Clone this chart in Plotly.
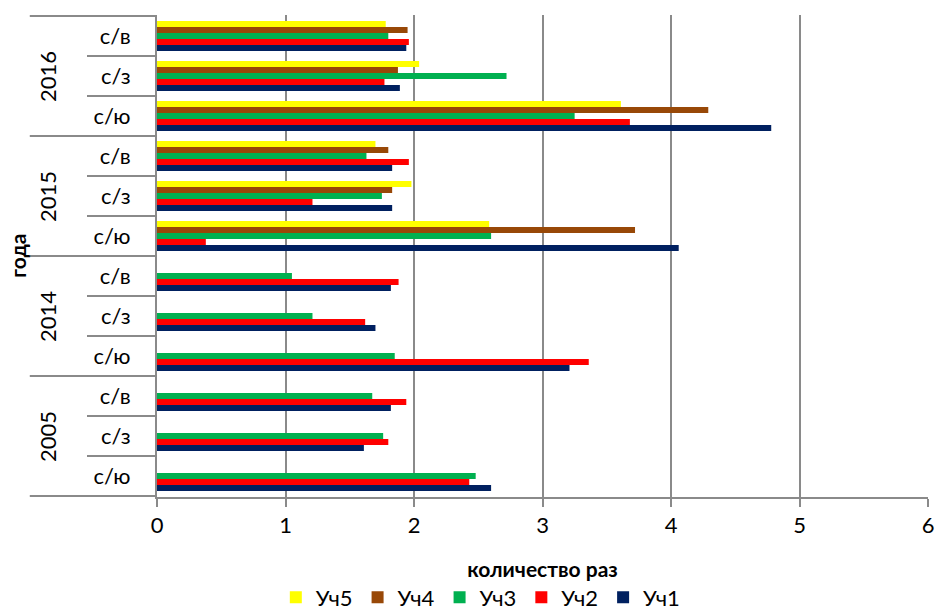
import plotly.graph_objects as go

years = ["2005", "2005", "2005", "2014", "2014", "2014",
         "2015", "2015", "2015", "2016", "2016", "2016"]
directions = ["с/ю", "с/з", "с/в"] * 4
year_groups = ["2005", "2014", "2015", "2016"]

uch1 = [2.60, 1.61, 1.82, 3.21, 1.70, 1.82, 4.06, 1.83, 1.83, 4.78, 1.89, 1.94]
uch2 = [2.43, 1.80, 1.94, 3.36, 1.62, 1.88, 0.38, 1.21, 1.96, 3.68, 1.77, 1.96]
uch3 = [2.48, 1.76, 1.675, 1.85, 1.21, 1.05, 2.60, 1.75, 1.63, 3.25, 2.72, 1.80]
uch4 = [None, None, None, None, None, None, 3.72, 1.83, 1.80, 4.29, 1.875, 1.95]
uch5 = [None, None, None, None, None, None, 2.585, 1.98, 1.70, 3.61, 2.04, 1.78]

series = [("Уч1", uch1, "#002060"), ("Уч2", uch2, "#FF0000"),
          ("Уч3", uch3, "#00B050"), ("Уч4", uch4, "#984807"),
          ("Уч5", uch5, "#FFFF00")]

FONT = "Lato, 'Open Sans', sans-serif"
GRID = "#8a8a8a"

# unique category ids (year + direction), shown as direction only
cat_ids = [f"{y} {d}" for y, d in zip(years, directions)]

fig = go.Figure()
for name, vals, color in series:
    fig.add_trace(go.Bar(
        y=cat_ids, x=vals, name=name, orientation="h",
        marker=dict(color=color, line=dict(width=0)),
    ))

# year group labels and dividers
n_per = len(directions) // len(year_groups)
shapes = []
annotations = []
for gi, yr in enumerate(year_groups):
    annotations.append(dict(
        text=yr, xref="paper", yref="y", x=-0.1427, y=gi * n_per + (n_per - 1) / 2,
        showarrow=False, textangle=-90, font=dict(size=22), xanchor="center", yanchor="middle"))
for gi in range(len(year_groups) + 1):
    yb = gi * n_per - 0.5
    shapes.append(dict(type="line", xref="paper", yref="y", x0=-0.165, x1=0,
                       y0=yb, y1=yb, line=dict(color=GRID, width=2)))

annotations.append(dict(text="<b>года</b>", xref="paper", yref="paper", x=-0.182, y=0.5,
                        showarrow=False, textangle=-90, font=dict(size=21),
                        xanchor="center", yanchor="middle"))

fig.update_layout(
    width=937, height=613,
    margin=dict(l=157, r=9, t=15, b=116, autoexpand=False),
    paper_bgcolor="white", plot_bgcolor="white",
    barmode="group", bargap=0.25, bargroupgap=0,
    font=dict(family=FONT, size=22, color="black"),
    showlegend=True,
    legend=dict(orientation="h", traceorder="reversed",
                x=0.42, xanchor="center", y=-0.165, yanchor="top",
                font=dict(size=22), itemwidth=30),
    xaxis=dict(range=[0, 6], dtick=1, showgrid=True, gridcolor=GRID,
               gridwidth=2, zeroline=False, showline=True, linecolor=GRID, linewidth=2,
               ticks="outside", ticklen=8, tickcolor=GRID, tickwidth=2,
               tickfont=dict(size=22),
               title=dict(text="<b>количество раз</b>", font=dict(size=21), standoff=25)),
    yaxis=dict(type="category", categoryorder="array", categoryarray=cat_ids,
               tickmode="array", tickvals=cat_ids, ticktext=directions,
               showline=True, linecolor=GRID, linewidth=2,
               ticks="outside", tickson="boundaries", ticklen=68, tickcolor=GRID, tickwidth=2,
               ticklabelstandoff=20,
               tickfont=dict(size=22), showgrid=False, zeroline=False),
    shapes=shapes,
    annotations=annotations,
)

fig.write_html("out.html")
